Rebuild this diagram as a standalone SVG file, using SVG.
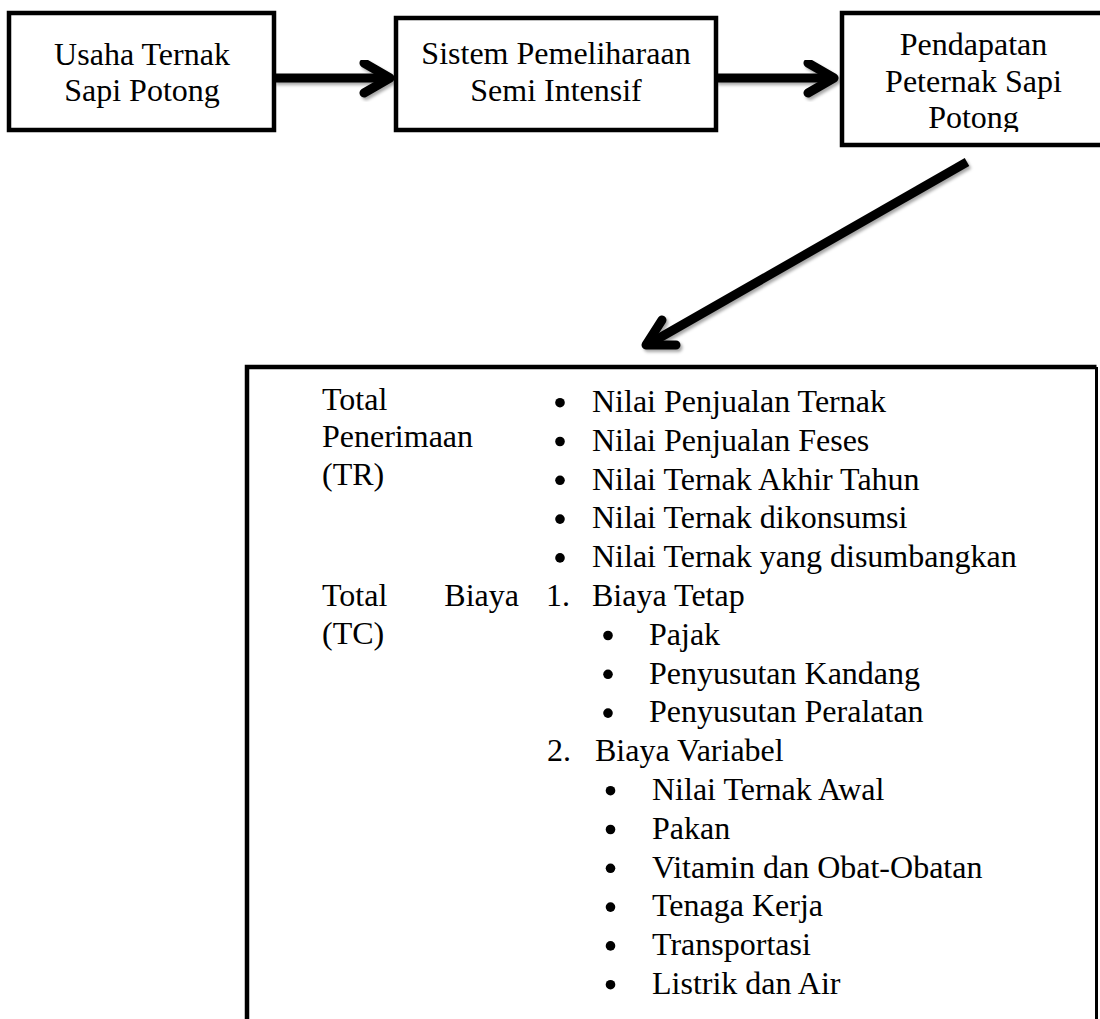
<svg xmlns="http://www.w3.org/2000/svg" width="1100" height="1019" viewBox="0 0 1100 1019">
<style>
text{font-family:"Liberation Serif","Times New Roman",serif;font-size:32px;fill:#000}
.c{text-anchor:middle}
.box{fill:#fff;stroke:#000;stroke-width:4.5}
.shaft{fill:none;stroke:#000;stroke-width:9;stroke-linecap:butt}
.head{fill:none;stroke:#000;stroke-width:9;stroke-linecap:round;stroke-linejoin:round}
.blt{fill:#000}
</style>
<defs>
<filter id="sh" x="-10%" y="-10%" width="130%" height="140%">
<feDropShadow dx="2" dy="2.5" stdDeviation="1.8" flood-color="#000" flood-opacity="0.35"/>
</filter>
<clipPath id="clip3"><rect x="842" y="13" width="263" height="119"/></clipPath>
</defs>
<rect width="1100" height="1019" fill="#fff"/>

<g id="connectors">
<g filter="url(#sh)">
<path class="shaft" d="M274 78 L390 78"/>
<path class="head" d="M364 63 L390 78 L364 93"/>
</g>
<g filter="url(#sh)">
<path class="shaft" d="M716 78 L834 78"/>
<path class="head" d="M808 63 L834 78 L808 93"/>
</g>
<g filter="url(#sh)">
<path class="shaft" d="M967 162 L647 345"/>
<path class="head" d="M662 320 L646 345 L676 345"/>
</g>
</g>

<g id="node-usaha">
<rect class="box" x="9" y="13" width="265" height="117"/>
<text class="c" x="142" y="65">Usaha Ternak</text>
<text class="c" x="142" y="101">Sapi Potong</text>
</g>

<g id="node-sistem">
<rect class="box" x="396" y="18" width="320" height="112"/>
<text class="c" x="556" y="64">Sistem Pemeliharaan</text>
<text class="c" x="556" y="101">Semi Intensif</text>
</g>

<g id="node-pendapatan">
<rect class="box" x="842" y="13" width="263" height="132"/>
<g clip-path="url(#clip3)">
<text class="c" x="973.5" y="55">Pendapatan</text>
<text class="c" x="973.5" y="92">Peternak Sapi</text>
<text class="c" x="973.5" y="128">Potong</text>
</g>
</g>

<g id="node-rincian">
<rect x="247" y="367" width="849.5" height="700" fill="#fff"/>
<path d="M247 1019 L247 367 L1096.5 367" fill="none" stroke="#000" stroke-width="4.5"/>
<path d="M1096.5 367 L1096.5 1019" fill="none" stroke="#000" stroke-width="3"/>

<text x="322" y="410">Total</text>
<text x="322" y="447">Penerimaan</text>
<text x="322" y="485">(TR)</text>

<circle class="blt" cx="560" cy="402.7" r="4.8"/><text x="592" y="412">Nilai Penjualan Ternak</text>
<circle class="blt" cx="560" cy="441.5" r="4.8"/><text x="592" y="450.8">Nilai Penjualan Feses</text>
<circle class="blt" cx="560" cy="480.3" r="4.8"/><text x="592" y="489.6">Nilai Ternak Akhir Tahun</text>
<circle class="blt" cx="560" cy="519.1" r="4.8"/><text x="592" y="528.4">Nilai Ternak dikonsumsi</text>
<circle class="blt" cx="560" cy="557.9" r="4.8"/><text x="592" y="567.2">Nilai Ternak yang disumbangkan</text>

<text x="322" y="606">Total</text>
<text x="519" y="606" text-anchor="end">Biaya</text>
<text x="322" y="644">(TC)</text>

<text x="546" y="606">1.</text><text x="592" y="606">Biaya Tetap</text>
<circle class="blt" cx="608" cy="635.5" r="4.8"/><text x="649" y="644.8">Pajak</text>
<circle class="blt" cx="608" cy="674.3" r="4.8"/><text x="649" y="683.6">Penyusutan Kandang</text>
<circle class="blt" cx="608" cy="713.1" r="4.8"/><text x="649" y="722.4">Penyusutan Peralatan</text>

<text x="547" y="761.2">2.</text><text x="595" y="761.2">Biaya Variabel</text>
<circle class="blt" cx="610.5" cy="790.7" r="4.8"/><text x="652" y="800">Nilai Ternak Awal</text>
<circle class="blt" cx="610.5" cy="829.5" r="4.8"/><text x="652" y="838.8">Pakan</text>
<circle class="blt" cx="610.5" cy="868.3" r="4.8"/><text x="652" y="877.6">Vitamin dan Obat-Obatan</text>
<circle class="blt" cx="610.5" cy="907.1" r="4.8"/><text x="652" y="916.4">Tenaga Kerja</text>
<circle class="blt" cx="610.5" cy="945.9" r="4.8"/><text x="652" y="955.2">Transportasi</text>
<circle class="blt" cx="610.5" cy="984.7" r="4.8"/><text x="652" y="994">Listrik dan Air</text>
</g>
</svg>
